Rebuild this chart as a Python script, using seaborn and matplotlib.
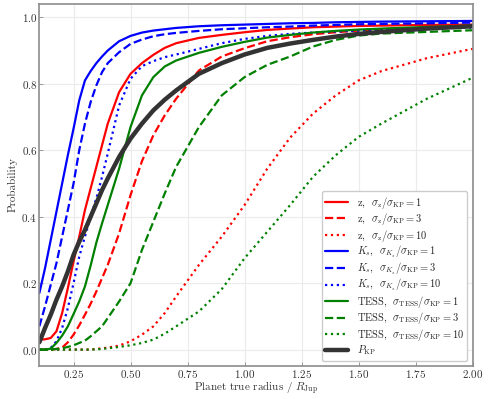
import numpy as np
import pandas as pd
import matplotlib
matplotlib.use('Agg')
import matplotlib.pyplot as plt
import seaborn as sns

# planet true radius grid (R_Jup)
radius = [0.1, 0.125, 0.15, 0.175, 0.2, 0.225, 0.25, 0.275, 0.3, 0.325, 0.35,
          0.375, 0.4, 0.45, 0.5, 0.55, 0.6, 0.65, 0.7, 0.8, 0.9, 1.0, 1.1,
          1.2, 1.3, 1.4, 1.5, 1.6, 1.8, 2.0]

z_1 = [0.03, 0.031, 0.035, 0.055, 0.11, 0.185, 0.265, 0.34, 0.42, 0.485,
       0.55, 0.615, 0.68, 0.775, 0.83, 0.862, 0.887, 0.908, 0.922, 0.938,
       0.947, 0.955, 0.962, 0.966, 0.97, 0.972, 0.974, 0.975, 0.977, 0.978]
z_3 = [0.0, 0.0, 0.0, 0.002, 0.006, 0.022, 0.045, 0.073, 0.105, 0.138,
       0.175, 0.215, 0.255, 0.35, 0.465, 0.567, 0.645, 0.705, 0.755, 0.84,
       0.882, 0.907, 0.928, 0.94, 0.949, 0.955, 0.96, 0.964, 0.969, 0.972]
z_10 = [0.0, 0.0, 0.0, 0.0, 0.0, 0.0, 0.0, 0.0, 0.0, 0.0, 0.002, 0.004,
        0.006, 0.012, 0.025, 0.045, 0.07, 0.11, 0.16, 0.255, 0.34, 0.435,
        0.545, 0.638, 0.71, 0.765, 0.81, 0.838, 0.877, 0.905]

ks_1 = [0.17, 0.245, 0.33, 0.415, 0.5, 0.585, 0.665, 0.75, 0.81, 0.838,
        0.862, 0.882, 0.9, 0.928, 0.944, 0.954, 0.96, 0.964, 0.968, 0.973,
        0.976, 0.978, 0.98, 0.982, 0.983, 0.985, 0.986, 0.987, 0.988, 0.989]
ks_3 = [0.07, 0.13, 0.195, 0.26, 0.34, 0.42, 0.5, 0.6, 0.68, 0.745, 0.795,
        0.835, 0.862, 0.895, 0.92, 0.933, 0.943, 0.949, 0.953, 0.959, 0.964,
        0.967, 0.97, 0.972, 0.975, 0.977, 0.979, 0.98, 0.982, 0.984]
ks_10 = [0.0, 0.0, 0.005, 0.025, 0.065, 0.125, 0.2, 0.28, 0.34, 0.4, 0.455,
         0.52, 0.59, 0.735, 0.815, 0.853, 0.868, 0.88, 0.888, 0.905, 0.922,
         0.935, 0.944, 0.95, 0.954, 0.957, 0.96, 0.962, 0.966, 0.969]

tess_1 = [0.0, 0.0, 0.003, 0.02, 0.042, 0.07, 0.107, 0.145, 0.19, 0.253,
          0.322, 0.38, 0.435, 0.545, 0.67, 0.765, 0.82, 0.852, 0.87, 0.893,
          0.911, 0.926, 0.939, 0.947, 0.954, 0.959, 0.963, 0.966, 0.971, 0.975]
tess_3 = [0.0, 0.0, 0.0, 0.002, 0.004, 0.008, 0.013, 0.02, 0.027, 0.04,
          0.055, 0.07, 0.095, 0.145, 0.2, 0.3, 0.385, 0.47, 0.55, 0.67,
          0.765, 0.82, 0.857, 0.882, 0.912, 0.932, 0.945, 0.951, 0.956, 0.961]
tess_10 = [0.0, 0.0, 0.0, 0.0, 0.0, 0.0, 0.0, 0.0, 0.0, 0.0, 0.001, 0.002,
           0.004, 0.008, 0.013, 0.02, 0.03, 0.048, 0.07, 0.115, 0.182, 0.275,
           0.355, 0.435, 0.52, 0.585, 0.64, 0.68, 0.755, 0.818]

p_kp = [0.022, 0.065, 0.105, 0.15, 0.19, 0.235, 0.285, 0.325, 0.36, 0.4,
        0.44, 0.48, 0.515, 0.58, 0.635, 0.68, 0.72, 0.752, 0.78, 0.83, 0.862,
        0.888, 0.908, 0.921, 0.932, 0.942, 0.95, 0.956, 0.966, 0.973]

sns.set_style('whitegrid', {
    'grid.color': '#ebebeb',
    'axes.edgecolor': '#8c8c8c',
    'xtick.bottom': True,
    'ytick.left': True,
    'xtick.direction': 'in',
    'ytick.direction': 'in',
})
plt.rcParams['font.family'] = 'serif'
plt.rcParams['font.serif'] = ['cmr10', 'DejaVu Serif']
plt.rcParams['mathtext.fontset'] = 'cm'
plt.rcParams['axes.formatter.use_mathtext'] = True
plt.rcParams['xtick.color'] = '#8c8c8c'
plt.rcParams['ytick.color'] = '#8c8c8c'
plt.rcParams['xtick.labelcolor'] = '#333333'
plt.rcParams['ytick.labelcolor'] = '#333333'

fig = plt.figure(figsize=(4.98, 3.99), dpi=100)
ax = fig.add_axes([0.079, 0.083, 0.870, 0.907])

curves = [
    (z_1, 'red', '-', r'z,  $\sigma_{\rm z}/\sigma_{\rm KP} = 1$'),
    (z_3, 'red', '--', r'z,  $\sigma_{\rm z}/\sigma_{\rm KP} = 3$'),
    (z_10, 'red', ':', r'z,  $\sigma_{\rm z}/\sigma_{\rm KP} = 10$'),
    (ks_1, 'blue', '-', r'$K_s$,  $\sigma_{K_s}/\sigma_{\rm KP} = 1$'),
    (ks_3, 'blue', '--', r'$K_s$,  $\sigma_{K_s}/\sigma_{\rm KP} = 3$'),
    (ks_10, 'blue', ':', r'$K_s$,  $\sigma_{K_s}/\sigma_{\rm KP} = 10$'),
    (tess_1, 'green', '-', r'TESS,  $\sigma_{\rm TESS}/\sigma_{\rm KP} = 1$'),
    (tess_3, 'green', '--', r'TESS,  $\sigma_{\rm TESS}/\sigma_{\rm KP} = 3$'),
    (tess_10, 'green', ':', r'TESS,  $\sigma_{\rm TESS}/\sigma_{\rm KP} = 10$'),
]

for values, color, ls, label in curves:
    df = pd.DataFrame({'r': radius, 'p': values})
    sns.lineplot(data=df, x='r', y='p', ax=ax, color=color, linestyle=ls,
                 linewidth=1.6, label=label)

df_kp = pd.DataFrame({'r': radius, 'p': p_kp})
sns.lineplot(data=df_kp, x='r', y='p', ax=ax, color='#333333', linewidth=3.2,
             label=r'$P_{\rm KP}$')

ax.set_xlim(0.1, 2.0)
ax.set_ylim(-0.049, 1.04)
ax.set_xticks([0.25, 0.5, 0.75, 1.0, 1.25, 1.5, 1.75, 2.0])
ax.set_yticks([0.0, 0.2, 0.4, 0.6, 0.8, 1.0])
ax.tick_params(labelsize=8, length=3, width=0.6, pad=1.5)
ax.set_xlabel(r'Planet true radius / $R_{\rm Jup}$', fontsize=8,
              color='#333333', labelpad=0)
ax.set_ylabel('Probability', fontsize=8, color='#333333', labelpad=3)
for s in ax.spines.values():
    s.set_linewidth(1.2)

ax.legend(loc='lower right', fontsize=7.5, frameon=True, framealpha=1,
          edgecolor='#cccccc', handlelength=2.2, labelspacing=0.05,
          borderpad=0.35)

fig.savefig('out.png', dpi=100)
plt.close(fig)
